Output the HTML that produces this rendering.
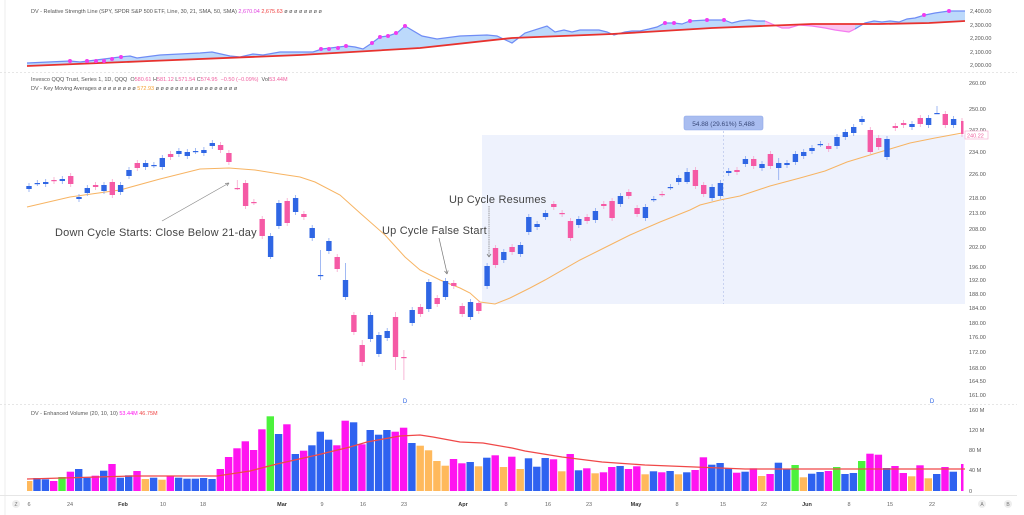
<!DOCTYPE html>
<html><head><meta charset="utf-8"><style>
html,body{margin:0;padding:0;background:#fff;}
svg{display:block;font-family:"Liberation Sans",sans-serif;}
</style></head><body>
<svg id="c" width="1024" height="515" xmlns="http://www.w3.org/2000/svg"></svg>
<script>
const S=document.getElementById('c');let h='';
function add(s){h+=s;}
// frame
add('<rect x="0" y="0" width="1024" height="515" fill="#fff"/>');
add('<line x1="5" y1="0" x2="5" y2="515" stroke="#eee"/>');
add('<line x1="0" y1="72.5" x2="1017" y2="72.5" stroke="#e6e6e6" stroke-dasharray="2,2"/>');
add('<line x1="0" y1="404.5" x2="1017" y2="404.5" stroke="#e6e6e6" stroke-dasharray="2,2"/>');
add('<line x1="0" y1="495.5" x2="1017" y2="495.5" stroke="#e6e6e6"/>');
// RS panel
const blue=[[27,63],[70,61],[80,62],[120,57],[130,56],[137,58],[160,55],[200,53],[212,52],[230,56],[240,57],[253,54],[263,55],[280,52],[313,52],[322,49],[347,46],[355,47],[363,49],[372,43],[380,37],[388,36],[397,33],[405,26],[422,36],[437,39],[460,36],[487,35],[497,36],[512,43],[525,33],[547,26],[555,32],[564,30],[572,32],[580,30],[599,30],[607,32],[614,35],[625,32],[632,31],[640,31],[649,29],[657,27],[665,23],[674,23],[682,24],[690,21],[707,20],[724,20],[732,23],[740,21],[749,20],[757,21],[765,21],[772,24],[782,28],[789,28],[799,25],[812,26],[825,28],[835,30],[849,32],[855,29],[865,23],[874,21],[882,22],[890,21],[899,22],[907,19],[915,18],[925,15],[935,13],[949,11],[965,11]];
const red=[[27,66],[150,61],[300,55],[420,48],[512,38],[612,34],[712,28],[812,24],[879,24],[929,23],[965,21]];
function ry(x){for(let i=0;i<red.length-1;i++){const a=red[i],b=red[i+1];if(x>=a[0]&&x<=b[0])return a[1]+(b[1]-a[1])*(x-a[0])/(b[0]-a[0]);}return red[red.length-1][1];}
function poly(pts){return pts.map(p=>p[0]+','+p[1].toFixed(1)).join(' ');}
function fillSeg(x0,x1,col){const bp=blue.filter(p=>p[0]>=x0&&p[0]<=x1);const rp=[];for(let x=x1;x>=x0;x-=3)rp.push([x,ry(x)]);rp.push([x0,ry(x0)]);add('<polygon points="'+poly(bp.concat(rp))+'" fill="'+col+'"/>');}
fillSeg(27,765,'#bcd9fb');fillSeg(855,965,'#bcd9fb');fillSeg(765,855,'#fbc4ef');
add('<polyline points="'+poly(blue.filter(p=>p[0]<=765))+'" fill="none" stroke="#6f8cf5" stroke-width="1.2"/>');
add('<polyline points="'+poly(blue.filter(p=>p[0]>=765&&p[0]<=855))+'" fill="none" stroke="#f47bf0" stroke-width="1.2"/>');
add('<polyline points="'+poly(blue.filter(p=>p[0]>=855))+'" fill="none" stroke="#6f8cf5" stroke-width="1.2"/>');
add('<polyline points="'+poly(red)+'" fill="none" stroke="#e8322e" stroke-width="1.8"/>');
[[70,61],[87,61],[96,61],[104,61],[112,59],[121,57],[321,49],[329,49],[338,48],[346,46],[372,43],[380,37],[388,36],[396,33],[405,26],[665,23],[674,23],[690,21],[707,20],[724,20],[924,15],[949,11]].forEach(p=>add('<circle cx="'+p[0]+'" cy="'+p[1]+'" r="2" fill="#f03cf0"/>'));
add('<text x="31" y="13" font-size="5.5" fill="#555">DV - Relative Strength Line (SPY, SPDR S&amp;P 500 ETF, Line, 30, 21, SMA, 50, SMA) <tspan fill="#e040e0">2,670.04</tspan> <tspan fill="#f04040">2,675.63</tspan> ø ø ø ø ø ø ø ø</tspan></text>');
[['2,400.00',13],['2,300.00',27],['2,200.00',40],['2,100.00',54],['2,000.00',67]].forEach(l=>add('<text x="970" y="'+l[1]+'" font-size="5.5" fill="#555">'+l[0]+'</text>'));
// main header
add('<text x="31" y="81" font-size="5.5" fill="#555">Invesco QQQ Trust, Series 1, 1D, QQQ &#160;O<tspan fill="#f060a0">580.61</tspan> H<tspan fill="#f060a0">581.12</tspan> L<tspan fill="#f060a0">571.54</tspan> C<tspan fill="#f060a0">574.95 &#160;−0.50 (−0.09%)</tspan> &#160;Vol<tspan fill="#f060a0">53.44M</tspan></text>');
add('<text x="31" y="90" font-size="5.5" fill="#555">DV - Key Moving Averages ø ø ø ø ø ø ø ø <tspan fill="#f5a030">572.93</tspan> ø ø ø ø ø ø ø ø ø ø ø ø ø ø ø ø ø</text>');
// price axis
[['260.00',85],['250.00',111],['242.00',132],['234.00',154],['226.00',176],['218.00',200],['213.00',215],['208.00',231],['202.00',249],['196.00',269],['192.00',282],['188.00',296],['184.00',310],['180.00',325],['176.00',339],['172.00',354],['168.00',370],['164.50',383],['161.00',397]].forEach(l=>add('<text x="969" y="'+l[1]+'" font-size="5.5" fill="#555">'+l[0]+'</text>'));
// shaded measure box
add('<rect x="482" y="135" width="483" height="169" fill="#eef2fd"/>');
add('<line x1="723.5" y1="131" x2="723.5" y2="304" stroke="#c8d2f0" stroke-dasharray="2,2"/>');
add('<rect x="684" y="116" width="79" height="14" rx="2" fill="#a9bdf0" stroke="#8fa8ea" stroke-width="0.6"/>');
add('<text x="723.5" y="126" font-size="6.5" text-anchor="middle" fill="#3a4a7a">54.88 (29.61%) 5,488</text>');
// MA line
const ma=[[27,207],[70,197],[120,190],[160,179],[200,169],[229,168],[255,170],[280,174],[300,177],[315,182],[340,195],[360,213],[385,235],[405,257],[420,270],[440,280],[460,288],[470,293],[480,302],[495,304],[510,298],[530,288],[545,280],[580,260],[600,250],[630,235],[660,222],[690,210],[700,205],[720,200],[740,196],[770,186],[800,178],[825,171],[847,162],[870,155],[890,149],[910,143],[935,138],[962,133]];
add('<polyline points="'+poly(ma)+'" fill="none" stroke="#f7b463" stroke-width="1"/>');
// candles: [color, top, bottom]  b=blue p=pink
const C=[['b',186,189],['b',183,183],['b',182,184],['p',180,181],['b',179,181],['p',176,184],['b',197,199],['b',188,193],['p',185,187],['b',185,191],['p',182,195],['b',185,192],['b',170,176],['p',163,168],['b',163,167],['b',165,165],['b',158,167],['p',154,157],['b',151,154],['b',152,156],['b',151,151],['b',150,153],['b',143,146],['p',145,150],['p',153,162],['p',188,188],['p',183,206],['p',202,202],['p',219,236],['b',236,257],['b',203,226],['p',201,223],['b',198,212],['p',214,217],['b',228,238],['b',275,275],['b',241,251],['p',257,269],['b',280,297],['p',315,332],['p',345,362],['b',315,339],['b',335,354],['b',331,338],['p',317,357],['p',357,357],['b',310,323],['p',307,314],['b',282,309],['p',298,304],['b',281,297],['p',283,286],['p',306,314],['b',302,317],['p',303,311],['b',266,286],['p',248,265],['b',252,260],['p',247,252],['b',245,254],['b',217,232],['b',224,227],['b',213,217],['p',204,207],['p',213,214],['p',221,238],['b',219,225],['p',217,221],['b',211,220],['p',204,206],['p',201,218],['b',196,204],['p',192,196],['p',208,214],['b',207,218],['b',199,199],['p',194,194],['b',187,187],['b',178,182],['b',172,182],['p',170,186],['p',185,194],['b',187,198],['b',183,196],['b',171,173],['p',170,172],['b',159,164],['p',159,166],['b',164,168],['p',154,166],['b',163,168],['b',163,165],['b',154,162],['b',152,156],['b',148,151],['b',144,144],['p',146,149],['b',137,146],['b',132,137],['b',127,133],['b',119,122],['p',130,152],['p',138,147],['b',139,157],['p',126,128],['p',123,125],['b',124,127],['p',118,124],['b',118,125],['b',113,113],['p',114,125],['b',119,125],['p',121,134]];
const wk={25:[180,190],35:[250,280],45:[350,380],109:[106,114],29:[233,259],90:[158,180],79:[168,184],103:[136,160],101:[127,154],38:[263,300],40:[340,366],44:[312,370]};
C.forEach((c,i)=>{const x=29+8.33*i;const col=c[0]=='b'?'#2f66e4':'#f55aa5';const wc=c[0]=='b'?'#8aa8f0':'#f7a6cc';
 let w=wk[i]||[c[1]-3,c[2]+3];
 add('<line x1="'+x.toFixed(1)+'" y1="'+w[0]+'" x2="'+x.toFixed(1)+'" y2="'+w[1]+'" stroke="'+wc+'" stroke-width="0.8"/>');
 const hgt=Math.max(1.2,c[2]-c[1]);const bw=i==112?2.5:5.4;
 add('<rect x="'+(i==112?x-1:x-2.7).toFixed(1)+'" y="'+c[1]+'" width="'+bw+'" height="'+hgt+'" fill="'+col+'"/>');});
// price tag
add('<rect x="965" y="131" width="23" height="8" fill="#fff" stroke="#f7a6cc" stroke-width="0.6"/>');
add('<text x="967" y="137.5" font-size="5.5" fill="#f060a0">240.22</text>');
// annotations
add('<g font-size="11" fill="#444" letter-spacing="0.2">');
add('<text x="55" y="236">Down Cycle Starts: Close Below 21-day</text>');
add('<text x="382" y="234">Up Cycle False Start</text>');
add('<text x="449" y="203">Up Cycle Resumes</text></g>');
add('<line x1="162" y1="221" x2="229" y2="183" stroke="#888" stroke-width="0.7"/><path d="M229,183 l-4,0.5 M229,183 l-2,3" stroke="#888" stroke-width="0.7"/>');
add('<line x1="439" y1="238" x2="447" y2="273" stroke="#777" stroke-width="0.7"/><path d="M447,274 l-2.5,-3 M447,274 l1.2,-3.5" stroke="#777" stroke-width="0.7"/>');
add('<line x1="489" y1="206" x2="489" y2="256" stroke="#777" stroke-width="0.7" stroke-dasharray="1.5,0.7"/><path d="M489,257 l-2,-3 M489,257 l2,-3" stroke="#777" stroke-width="0.7"/>');
add('<text x="405" y="403" font-size="6" fill="#2f66e4" text-anchor="middle">D</text><text x="932" y="403" font-size="6" fill="#2f66e4" text-anchor="middle">D</text>');
// volume
const V='o228 b219 b223 m228 g216 m200 b192 b218 m212 b197 m177 b218 b211 m198 o222 b218 o224 m212 b218 b221 b221 b219 b222 m192 m156 m130 m109 m135 m73 g34 b87 m58 b147 m137 b121 b80 b104 m121 m47 b52 m118 b75 b89 b75 m80 m68 b114 o122 o136 o168 o182 m162 m175 b171 o184 b158 m151 o186 m155 o192 b160 b185 b159 m163 o199 m147 b196 m190 o205 m202 m186 b183 m192 m184 o208 b199 m202 b198 o208 b202 m195 m157 b179 b174 b190 m203 b200 m190 o213 m207 b173 b193 g180 o217 b206 b201 m198 g186 b207 b204 g168 m146 m149 b189 m183 m204 o214 m181 o220 b207 m186 b200 m177'.split(' ');
const vc={o:'#ffb95c',b:'#2f62f0',m:'#ff14f0',g:'#4cf23c'};
V.forEach((v,k)=>{let x=25+8.33*k,w=7.4;const top=405+(+v.slice(1))/3;if(k==0){x=27;w=5.4;}if(k==112){w=2.5;x=961;}
 add('<rect x="'+x.toFixed(1)+'" y="'+top.toFixed(1)+'" width="'+w+'" height="'+(491-top).toFixed(1)+'" fill="'+vc[v[0]]+'"/>');});
add('<polyline points="27,479 133,476 217,476 250,471 277,464 317,455 350,447 367,442 400,436 420,435 433,437 460,442 483,443 512,448 525,451 562,457 602,462 645,465 695,467 745,469 845,469 965,469" fill="none" stroke="#f04848" stroke-width="1.3"/>');
add('<text x="31" y="415" font-size="5.5" fill="#555">DV - Enhanced Volume (20, 10, 10) <tspan fill="#ff14f0">53.44M</tspan> <tspan fill="#f04848">46.75M</tspan></text>');
[['160 M',412],['120 M',432],['80 M',452],['40 M',472],['0',493]].forEach(l=>add('<text x="969" y="'+l[1]+'" font-size="5.5" fill="#555">'+l[0]+'</text>'));
// date axis
[['6',29],['24',70],['Feb',123,1],['10',163],['18',203],['Mar',282,1],['9',322],['16',363],['23',404],['Apr',463,1],['8',506],['16',548],['23',589],['May',636,1],['8',677],['15',723],['22',764],['Jun',807,1],['8',849],['15',890],['22',932]].forEach(l=>add('<text x="'+l[1]+'" y="506" font-size="5.5" text-anchor="middle" fill="'+(l[2]?'#333':'#666')+'"'+(l[2]?' font-weight="bold"':'')+'>'+l[0]+'</text>'));
[[16,'Z'],[982,'A'],[1008,'B']].forEach(a=>add('<circle cx="'+a[0]+'" cy="504" r="4" fill="#eee"/><text x="'+a[0]+'" y="506" font-size="5" text-anchor="middle" fill="#777">'+a[1]+'</text>'));
S.innerHTML=h;
</script>
</body></html>
